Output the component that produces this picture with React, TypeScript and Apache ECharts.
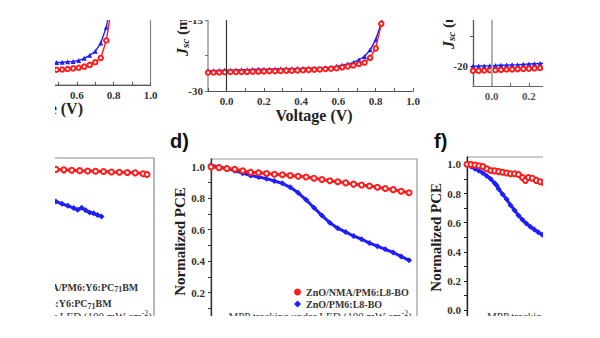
import React, { useEffect, useRef } from 'react';
import * as echarts from 'echarts';

// ---------- data ----------
// top-left J-V panel (partial)
const tlVoltage = [0.46, 0.49, 0.52, 0.55, 0.58, 0.61, 0.64, 0.67, 0.7, 0.73, 0.76, 0.79];
const tlJBlue = [-24.9, -24.85, -24.8, -24.7, -24.6, -24.4, -23.9, -23.2, -22.3, -20.4, -16.8, -10];
const tlJRed = [-26.6, -26.5, -26.45, -26.35, -26.2, -26.05, -25.8, -25.4, -24.8, -23.8, -19.8, -12];
const tlTicks = [0.4, 0.5, 0.6, 0.7, 0.8, 0.9, 1.0];
const tlLabels = [0.6, 0.8, 1.0];

// top-middle J-V panel
const tmVoltage = [-0.1, -0.07, -0.04, -0.01, 0.02, 0.05, 0.08, 0.11, 0.14, 0.17, 0.2, 0.23, 0.26, 0.29, 0.32, 0.35, 0.38, 0.41, 0.44, 0.47, 0.5, 0.53, 0.56, 0.59, 0.62, 0.65, 0.68, 0.71, 0.74, 0.77, 0.8, 0.83, 0.86];
const tmJBlue = [-25.7, -25.7, -25.65, -25.6, -25.6, -25.55, -25.5, -25.5, -25.45, -25.4, -25.4, -25.4, -25.35, -25.3, -25.3, -25.3, -25.25, -25.25, -25.2, -25.2, -25.2, -25.1, -25.0, -24.8, -24.55, -24.3, -24.0, -23.4, -22.7, -21.3, -19.2, -15.6, -9.0];
const tmJRed = [-26.1, -26.1, -26.1, -26.05, -26.0, -26.0, -26.0, -25.95, -25.9, -25.9, -25.85, -25.8, -25.8, -25.75, -25.7, -25.7, -25.65, -25.6, -25.55, -25.5, -25.45, -25.35, -25.3, -25.2, -25.0, -24.8, -24.6, -24.3, -24.0, -23.0, -21.0, -15.8, -8.0];
const tmXTicks = [-0.1, 0, 0.1, 0.2, 0.3, 0.4, 0.5, 0.6, 0.7, 0.8, 0.9, 1.0];
const tmXLabels = [0, 0.2, 0.4, 0.6, 0.8, 1.0];
const tmYTicks = [-30, -22.5, -15];
const tmYLabels = [-30, -15];

// top-right J-V panel (partial)
const trVoltage = [-0.1, -0.07, -0.04, -0.01, 0.02, 0.05, 0.08, 0.11, 0.14, 0.17, 0.2, 0.23, 0.26, 0.29, 0.32];
const trJBlue = [-19.95, -19.93, -19.9, -19.88, -19.85, -19.8, -19.77, -19.73, -19.7, -19.65, -19.6, -19.55, -19.5, -19.45, -19.4];
const trJRed = [-20.7, -20.68, -20.65, -20.62, -20.6, -20.55, -20.5, -20.47, -20.43, -20.4, -20.35, -20.3, -20.25, -20.2, -20.15];
const trXTicks = [-0.1, 0, 0.1, 0.2, 0.3, 0.4, 0.5];
const trXLabels = [0, 0.2, 0.4];
const trYTicks = [-20, -15, -10];
const trYLabels = [-20, -10];

// bottom-left MPP panel (partial)
const cTimeRed = [540, 580, 620, 660, 700, 740, 780, 820, 860, 900, 940, 980, 1000];
const cPceRed = [0.978, 0.975, 0.973, 0.97, 0.968, 0.966, 0.965, 0.962, 0.96, 0.958, 0.956, 0.95, 0.946];
const cTimeBlue = [540, 570, 600, 630, 650, 670, 690, 710, 730, 750, 770];
const cPceBlue = [0.775, 0.76, 0.748, 0.733, 0.722, 0.735, 0.72, 0.705, 0.7, 0.69, 0.68];
const cNames = ['ZnO/NMA/PM6:Y6:PC71BM', 'ZnO/PM6:Y6:PC71BM'];

// panel d
const dTime = [0, 40, 80, 120, 160, 200, 240, 280, 320, 360, 400, 440, 480, 520, 560, 600, 640, 680, 720, 760, 800, 840, 880, 920, 960, 1000];
const dPceRed = [1.0, 0.995, 0.99, 0.985, 0.975, 0.965, 0.962, 0.958, 0.953, 0.95, 0.945, 0.94, 0.935, 0.928, 0.92, 0.912, 0.905, 0.898, 0.89, 0.885, 0.878, 0.87, 0.862, 0.855, 0.845, 0.835];
const dPceBlue = [1.01, 1.0, 0.99, 0.975, 0.96, 0.945, 0.935, 0.925, 0.91, 0.895, 0.87, 0.835, 0.79, 0.74, 0.69, 0.645, 0.61, 0.585, 0.56, 0.54, 0.515, 0.495, 0.475, 0.455, 0.43, 0.405];
const dNames = ['ZnO/NMA/PM6:L8-BO', 'ZnO/PM6:L8-BO'];

// panel f (partial)
const fTimeRed = [0, 20, 40, 60, 80, 100, 120, 140, 160, 180, 200, 220, 240, 260, 280, 295, 310, 330, 350, 370, 390, 420];
const fPceRed = [1.0, 0.998, 0.995, 0.99, 0.985, 0.97, 0.958, 0.955, 0.95, 0.945, 0.94, 0.935, 0.935, 0.93, 0.91, 0.89, 0.91, 0.905, 0.89, 0.88, 0.872, 0.86];
const fTimeBlue = [0, 20, 40, 60, 80, 100, 120, 140, 150, 160, 180, 200, 220, 240, 260, 280, 300, 320, 340, 360, 380, 420];
const fPceBlue = [1.0, 0.985, 0.97, 0.955, 0.94, 0.92, 0.9, 0.87, 0.855, 0.83, 0.795, 0.76, 0.72, 0.685, 0.65, 0.62, 0.595, 0.572, 0.553, 0.535, 0.518, 0.49];

const pceTicks = [0, 0.1, 0.2, 0.3, 0.4, 0.5, 0.6, 0.7, 0.8, 0.9, 1.0];
const pceLabels = [0, 0.2, 0.4, 0.6, 0.8, 1.0];

// ---------- styles ----------
const SERIF = '"Liberation Serif", "Times New Roman", serif';
const SANS = '"Liberation Sans", Arial, sans-serif';
const RED = '#ff1c1c';
const BLUE = '#1e1eff';

const zip = (xs: number[], ys: number[]) => xs.map((x, i) => [x, ys[i]]);

const labelFont = { fontFamily: SERIF, fontWeight: 'bold' as const, fontSize: 11, color: '#333' };

function redSeries(name: string, xs: number[], ys: number[], idx: number, big: boolean) {
  return {
    type: 'line', name, data: zip(xs, ys), xAxisIndex: idx, yAxisIndex: idx,
    symbol: 'emptyCircle', symbolSize: big ? 5 : 4.5, color: RED,
    lineStyle: { color: RED, width: big ? 3 : 1.4 },
    itemStyle: { color: RED, borderWidth: 1.3 },
    clip: true, silent: true, z: 3,
  };
}
function blueSeries(name: string, xs: number[], ys: number[], idx: number, big: boolean, extra: any = {}) {
  return {
    type: 'line', name, data: zip(xs, ys), xAxisIndex: idx, yAxisIndex: idx,
    symbol: big ? 'diamond' : 'triangle', symbolSize: big ? 6 : 5, color: BLUE,
    lineStyle: { color: BLUE, width: big ? 3 : 1.4 },
    itemStyle: { color: BLUE },
    clip: true, silent: true, z: 2,
    ...extra,
  };
}

const fmt1 = (v: number) => v.toFixed(1);
const noSplit = { show: false };

function vMarkLine(color: string, width: number) {
  return {
    silent: true, symbol: 'none', label: { show: false },
    lineStyle: { color, width, type: 'solid' },
    data: [{ xAxis: 0 }],
  };
}

const supRich = (size: number) => ({
  j: { fontFamily: SERIF, fontWeight: 'bold', fontStyle: 'italic', fontSize: size + 1, fill: '#222' },
  s: { fontFamily: SERIF, fontWeight: 'bold', fontStyle: 'italic', fontSize: size - 4, fill: '#222', padding: [6, 0, 0, 0] },
  n: { fontFamily: SERIF, fontWeight: 'bold', fontSize: size, fill: '#222' },
  p: { fontFamily: SERIF, fontWeight: 'bold', fontSize: size - 6, fill: '#222', padding: [0, 0, 6, 0] },
});

const mppRich = { p: { fontFamily: SERIF, fontSize: 8, fill: '#333', padding: [0, 0, 6, 0] } };

const option: any = {
  animation: false,
  backgroundColor: '#ffffff',
  grid: [
    { left: 40, top: 2, width: 110.5, height: 83, show: true, borderColor: '#888', borderWidth: 1.2 },
    { left: 208, top: 1, width: 205, height: 90 },
    { left: 473, top: 1, width: 111.8, height: 85 },
    { left: 48, top: 158, width: 106, height: 166, show: true, borderColor: '#888', borderWidth: 1.2 },
    { left: 211, top: 159, width: 206, height: 165, show: true, borderColor: '#999', borderWidth: 1.2 },
    { left: 467, top: 157, width: 118.8, height: 160.6, show: true, borderColor: '#999', borderWidth: 1.2 },
  ],
  xAxis: [
    {
      type: 'value', gridIndex: 0, min: 0.4, max: 1.0,
      axisLine: { show: true, onZero: false, lineStyle: { color: '#555', width: 1.2 } },
      axisTick: { show: true, inside: true, length: 3, customValues: tlTicks, lineStyle: { color: '#555' } },
      axisLabel: { ...labelFont, margin: 4, customValues: tlLabels, formatter: fmt1 },
      splitLine: noSplit,
    },
    {
      type: 'value', gridIndex: 1, min: -0.1, max: 1.0,
      axisLine: { show: true, onZero: false, lineStyle: { color: '#555', width: 1.2 } },
      axisTick: { show: true, inside: true, length: 3, customValues: tmXTicks, lineStyle: { color: '#555' } },
      axisLabel: { ...labelFont, margin: 4, customValues: tmXLabels, formatter: fmt1 },
      splitLine: noSplit,
    },
    {
      type: 'value', gridIndex: 2, min: -0.1, max: 0.5,
      axisLine: { show: true, onZero: false, lineStyle: { color: '#666', width: 1.2 } },
      axisTick: { show: true, inside: true, length: 3, customValues: trXTicks, lineStyle: { color: '#666' } },
      axisLabel: { ...labelFont, color: '#555', margin: 4, customValues: trXLabels, formatter: fmt1 },
      splitLine: noSplit,
    },
    {
      type: 'value', gridIndex: 3, min: 500, max: 1035,
      axisLine: { show: false, onZero: false }, axisTick: { show: false }, axisLabel: { show: false }, splitLine: noSplit,
    },
    {
      type: 'value', gridIndex: 4, min: 0, max: 1040,
      axisLine: { show: false, onZero: false }, axisTick: { show: false }, axisLabel: { show: false }, splitLine: noSplit,
    },
    {
      type: 'value', gridIndex: 5, min: 0, max: 600,
      axisLine: { show: false, onZero: false }, axisTick: { show: false }, axisLabel: { show: false }, splitLine: noSplit,
    },
  ],
  yAxis: [
    {
      type: 'value', gridIndex: 0, min: -30, max: -11,
      axisLine: { show: false, onZero: false }, axisTick: { show: false }, axisLabel: { show: false }, splitLine: noSplit,
    },
    {
      type: 'value', gridIndex: 1, min: -30, max: -11,
      axisLine: { show: true, onZero: false, lineStyle: { color: '#999', width: 1.5 } },
      axisTick: { show: true, length: 3, customValues: tmYTicks, lineStyle: { color: '#777' } },
      axisLabel: { ...labelFont, margin: 5, customValues: tmYLabels, formatter: (v: number) => String(v) },
      splitLine: noSplit,
    },
    {
      type: 'value', gridIndex: 2, min: -23.2, max: -9.5,
      axisLine: { show: true, onZero: false, lineStyle: { color: '#555', width: 1.3 } },
      axisTick: { show: true, length: 3, customValues: trYTicks, lineStyle: { color: '#555' } },
      axisLabel: { ...labelFont, margin: 5, customValues: trYLabels, formatter: (v: number) => String(v) },
      splitLine: noSplit,
    },
    {
      type: 'value', gridIndex: 3, min: 0, max: 1.05,
      axisLine: { show: false, onZero: false }, axisTick: { show: false }, axisLabel: { show: false }, splitLine: noSplit,
    },
    {
      type: 'value', gridIndex: 4, min: 0, max: 1.05,
      name: 'Normalized PCE', nameLocation: 'middle', nameGap: 22,
      nameTextStyle: { fontFamily: SERIF, fontWeight: 'bold', fontSize: 15, color: '#222' },
      axisLine: { show: true, onZero: false, lineStyle: { color: '#333', width: 1.3 } },
      axisTick: { show: true, length: 3, customValues: pceTicks, lineStyle: { color: '#333' } },
      axisLabel: { ...labelFont, margin: 6, customValues: pceLabels, formatter: fmt1 },
      splitLine: noSplit,
    },
    {
      type: 'value', gridIndex: 5, min: -0.05, max: 1.05,
      name: 'Normalized PCE', nameLocation: 'middle', nameGap: 22,
      nameTextStyle: { fontFamily: SERIF, fontWeight: 'bold', fontSize: 15, color: '#222' },
      axisLine: { show: true, onZero: false, lineStyle: { color: '#222', width: 1.3 } },
      axisTick: { show: true, length: 3, customValues: pceTicks, lineStyle: { color: '#222' } },
      axisLabel: { ...labelFont, margin: 6, customValues: pceLabels, formatter: fmt1 },
      splitLine: noSplit,
    },
  ],
  legend: [
    {
      data: [{ name: dNames[0], icon: 'circle' }, { name: dNames[1], icon: 'diamond' }],
      left: 289, top: 282, orient: 'vertical', itemWidth: 7, itemHeight: 7, itemGap: 2,
      selectedMode: false,
      textStyle: { fontFamily: SERIF, fontWeight: 'bold', fontSize: 10, color: '#333' },
    },
    {
      data: [{ name: cNames[0], icon: 'circle' }, { name: cNames[1], icon: 'diamond' }],
      left: -5, top: 277, orient: 'vertical', itemWidth: 7, itemHeight: 7, itemGap: 5,
      selectedMode: false,
      formatter: (name: string) => name.replace('71', '{sub|71}'),
      textStyle: {
        fontFamily: SERIF, fontWeight: 'bold', fontSize: 10, color: '#333',
        rich: { sub: { fontFamily: SERIF, fontWeight: 'bold', fontSize: 8, color: '#333', padding: [5, 0, 0, 0] } },
      },
    },
  ],
  series: [
    redSeries('tl-red', tlVoltage, tlJRed, 0, false),
    blueSeries('tl-blue', tlVoltage, tlJBlue, 0, false),
    redSeries('tm-red', tmVoltage, tmJRed, 1, false),
    blueSeries('tm-blue', tmVoltage, tmJBlue, 1, false, { markLine: vMarkLine('#333', 1.2) }),
    redSeries('tr-red', trVoltage, trJRed, 2, false),
    blueSeries('tr-blue', trVoltage, trJBlue, 2, false, { markLine: vMarkLine('#aaa', 1.8) }),
    redSeries(cNames[0], cTimeRed, cPceRed, 3, true),
    blueSeries(cNames[1], cTimeBlue, cPceBlue, 3, true),
    redSeries(dNames[0], dTime, dPceRed, 4, true),
    blueSeries(dNames[1], dTime, dPceBlue, 4, true),
    redSeries('f-red', fTimeRed, fPceRed, 5, true),
    blueSeries('f-blue', fTimeBlue, fPceBlue, 5, true),
  ],
  graphic: [
    // axis titles
    {
      type: 'text', x: 83, y: 108, z: 10,
      style: { text: 'Voltage (V)', fontFamily: SERIF, fontWeight: 'bold', fontSize: 16, fill: '#222', align: 'right', verticalAlign: 'middle' },
    },
    {
      type: 'text', x: 314, y: 115, z: 10,
      style: { text: 'Voltage (V)', fontFamily: SERIF, fontWeight: 'bold', fontSize: 16, fill: '#222', align: 'center', verticalAlign: 'middle' },
    },
    {
      type: 'text', x: 182, y: 56, rotation: Math.PI / 2, z: 10,
      style: { text: '{j|J}{s|sc}{n| (mA cm}{p|-2}{n|)}', align: 'left', verticalAlign: 'middle', rich: supRich(15) },
    },
    {
      type: 'text', x: 448, y: 49, rotation: Math.PI / 2, z: 10,
      style: { text: '{j|J}{s|sc}{n| (mA cm}{p|-2}{n|)}', align: 'left', verticalAlign: 'middle', rich: supRich(15) },
    },
    // panel letters
    {
      type: 'text', x: 170, y: 131, z: 10,
      style: { text: 'd)', fontFamily: SANS, fontWeight: 'bold', fontSize: 20, fill: '#111', align: 'left', verticalAlign: 'top' },
    },
    {
      type: 'text', x: 434, y: 131, z: 10,
      style: { text: 'f)', fontFamily: SANS, fontWeight: 'bold', fontSize: 20, fill: '#111', align: 'left', verticalAlign: 'top' },
    },
    // MPP annotations
    {
      type: 'text', x: 152, y: 316, z: 10,
      style: { text: 'MPP tracking under LED (100 mW cm{p|-2})', fontFamily: SERIF, fontSize: 11, fill: '#333', align: 'right', verticalAlign: 'middle', rich: mppRich },
    },
    {
      type: 'text', x: 320, y: 316, z: 10,
      style: { text: 'MPP tracking under LED (100 mW cm{p|-2})', fontFamily: SERIF, fontSize: 11, fill: '#333', align: 'center', verticalAlign: 'middle', rich: mppRich },
    },
    {
      type: 'text', x: 487, y: 316, z: 10,
      style: { text: 'MPP tracking under LED (100 mW cm{p|-2})', fontFamily: SERIF, fontSize: 11, fill: '#333', align: 'left', verticalAlign: 'middle', rich: mppRich },
    },
    // crop masks (the reference is a cut-out of a larger figure)
    { type: 'rect', z: 100, shape: { x: 0, y: 0, width: 55, height: 338 }, style: { fill: '#fff' } },
    { type: 'rect', z: 100, shape: { x: 543, y: 0, width: 57, height: 338 }, style: { fill: '#fff' } },
    { type: 'rect', z: 100, shape: { x: 0, y: 316, width: 600, height: 22 }, style: { fill: '#fff' } },
    { type: 'rect', z: 100, shape: { x: 0, y: 0, width: 600, height: 20 }, style: { fill: '#fff' } },
  ],
};

export default function App() {
  const ref = useRef<HTMLDivElement>(null);
  useEffect(() => {
    if (!ref.current) return;
    const chart = echarts.init(ref.current, null, { renderer: 'svg' });
    chart.setOption(option);
    return () => chart.dispose();
  }, []);
  return (
    <div
      ref={ref}
      style={{ position: 'fixed', left: 0, top: 0, width: 600, height: 338, background: '#fff' }}
    />
  );
}
